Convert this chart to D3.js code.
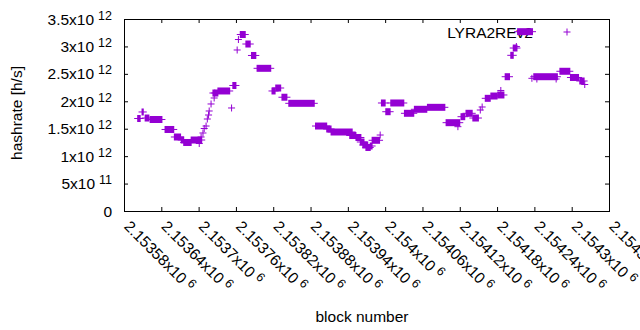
<!DOCTYPE html>
<meta charset="utf-8">
<head>
<title>LYRA2REv2 hashrate</title>
<style>
body { margin: 0; background: #fff; }
text { font-family: "Liberation Sans", Arial, sans-serif; font-size: 15.5px; fill: #000; }
.tick line { stroke: #000; }
</style>
</head>
<body>
<script src="https://d3js.org/d3.v7.min.js"></script>
<div id="chart"></div>
<script>

  // runs of consecutive blocks that share one hashrate value: first block, last block, h/s
  var runStart = [2153602, 2153609, 2153614, 2153622, 2153646, 2153661, 2153672, 2153676, 2153688, 2153701,
                  2153704, 2153707, 2153709, 2153712, 2153714, 2153716, 2153717, 2153720, 2153725, 2153726,
                  2153723, 2153731, 2153753, 2153755, 2153762, 2153764, 2153767, 2153776, 2153785, 2153794,
                  2153818, 2153824, 2153834, 2153845, 2153888, 2153906, 2153913, 2153943, 2153953, 2153960,
                  2153964, 2153969, 2153976, 2153979, 2153992, 2153994, 2154001, 2154009, 2154031, 2154047,
                  2154068, 2154098, 2154117, 2154122, 2154130, 2154141, 2154153, 2154156, 2154161, 2154170,
                  2154181, 2154186, 2154193, 2154202, 2154206, 2154211, 2154213, 2154236, 2154239, 2154244,
                  2154275, 2154281, 2154298, 2154313, 2154321];
  var runEnd   = [2153606, 2153611, 2153620, 2153641, 2153660, 2153671, 2153676, 2153688, 2153705, 2153701,
                  2153704, 2153707, 2153709, 2153712, 2153714, 2153716, 2153717, 2153720, 2153725, 2153726,
                  2153731, 2153750, 2153753, 2153760, 2153762, 2153764, 2153775, 2153783, 2153792, 2153816,
                  2153823, 2153832, 2153842, 2153886, 2153906, 2153913, 2153947, 2153953, 2153961, 2153966,
                  2153972, 2153976, 2153979, 2153991, 2153992, 2154000, 2154008, 2154030, 2154046, 2154067,
                  2154096, 2154120, 2154117, 2154128, 2154140, 2154150, 2154153, 2154156, 2154169, 2154180,
                  2154191, 2154186, 2154200, 2154206, 2154212, 2154211, 2154237, 2154236, 2154277, 2154244,
                  2154275, 2154297, 2154311, 2154320, 2154321];
  var runHash  = [1.686e12, 1.805e12, 1.695e12, 1.668e12, 1.486e12, 1.349e12, 1.294e12, 1.249e12, 1.294e12, 1.230e12,
                  1.349e12, 1.422e12, 1.504e12, 1.549e12, 1.677e12, 1.750e12, 1.823e12, 1.951e12, 2.060e12, 2.151e12,
                  2.151e12, 2.188e12, 1.878e12, 2.288e12, 2.935e12, 3.126e12, 3.217e12, 3.044e12, 2.835e12, 2.601e12,
                  2.188e12, 2.242e12, 2.074e12, 1.963e12, 1.549e12, 1.495e12, 1.440e12, 1.376e12, 1.340e12, 1.258e12,
                  1.203e12, 1.158e12, 1.185e12, 1.289e12, 1.385e12, 1.969e12, 1.810e12, 1.969e12, 1.781e12, 1.854e12,
                  1.890e12, 1.610e12, 1.537e12, 1.719e12, 1.781e12, 1.695e12, 1.841e12, 1.896e12, 2.054e12, 2.096e12,
                  2.115e12, 2.197e12, 2.448e12, 2.838e12, 2.971e12, 2.999e12, 3.269e12, 2.419e12, 2.448e12, 2.406e12,
                  2.406e12, 2.547e12, 2.434e12, 2.370e12, 2.306e12];

  var xTicks = [2153580, 2153640, 2153700, 2153760, 2153820, 2153880, 2153940,
                2154000, 2154060, 2154120, 2154180, 2154240, 2154300, 2154360];
  var xTickMant = ["2.15358", "2.15364", "2.1537", "2.15376", "2.15382", "2.15388", "2.15394",
                   "2.154", "2.15406", "2.15412", "2.15418", "2.15424", "2.1543", "2.15436"];
  var xTickExp = "6";

  var yTicks = [0, 0.5e12, 1e12, 1.5e12, 2e12, 2.5e12, 3e12, 3.5e12];
  var yTickMant = ["0", "5", "1", "1.5", "2", "2.5", "3", "3.5"];
  var yTickExp = ["", "11", "12", "12", "12", "12", "12", "12"];

  var seriesName = "LYRA2REv2";
  var color = "#9400d3";

  var width = 640,
      height = 330;

  var svg = d3.select("#chart")
      .append("svg")
      .attr("width", width)
      .attr("height", height);

  var x = d3.scaleLinear().domain([2153580, 2154360]).range([124, 609]);
  var y = d3.scaleLinear().domain([0, 3.5e12]).range([211, 19]);

  // ticks on all four sides, pointing inwards
  svg.append("g").attr("transform", "translate(0,211)")
      .call(d3.axisBottom(x).tickValues(xTicks).tickSize(-4).tickFormat(""));
  svg.append("g").attr("transform", "translate(0,19)")
      .call(d3.axisTop(x).tickValues(xTicks).tickSize(-4).tickFormat(""));
  svg.append("g").attr("transform", "translate(124,0)")
      .call(d3.axisLeft(y).tickValues(yTicks).tickSize(-4).tickFormat(""));
  svg.append("g").attr("transform", "translate(609,0)")
      .call(d3.axisRight(y).tickValues(yTicks).tickSize(-4).tickFormat(""));
  svg.selectAll(".domain").remove();

  svg.append("rect")
      .attr("x", x.range()[0] + 0.5).attr("y", y.range()[1] + 0.5)
      .attr("width", x.range()[1] - x.range()[0]).attr("height", y.range()[0] - y.range()[1])
      .attr("fill", "none").attr("stroke", "#000");

  // y tick labels
  yTicks.forEach(function (v, i) {
    var t = svg.append("text")
        .attr("x", 112).attr("y", y(v) + 5.5)
        .attr("text-anchor", "end");
    t.append("tspan").text(yTickMant[i] + (yTickExp[i] ? "x10" : ""));
    if (yTickExp[i]) {
      t.append("tspan").attr("dx", 4).attr("dy", -5).style("font-size", "12.5px").text(yTickExp[i]);
    }
  });

  // x tick labels, rotated
  xTicks.forEach(function (v, i) {
    var t = svg.append("text")
        .attr("transform", "translate(" + (x(v) + 3) + ",223.5) rotate(45)")
        .attr("dy", "0.35em");
    t.append("tspan").text(xTickMant[i] + "x10");
    t.append("tspan").attr("dx", 4).attr("dy", -5).style("font-size", "12.5px").text(xTickExp);
  });

  svg.append("text")
      .attr("x", 362).attr("y", 321.5)
      .attr("text-anchor", "middle")
      .text("block number");

  svg.append("text")
      .attr("transform", "translate(22,113) rotate(-90)")
      .attr("text-anchor", "middle")
      .text("hashrate [h/s]");

  // key text
  svg.append("text")
      .attr("x", 533).attr("y", 37.5)
      .attr("text-anchor", "end")
      .text(seriesName);

  // data: each run is the union of '+' marks, one per block
  var runs = runStart.map(function (s, i) { return { s: s, e: runEnd[i], v: runHash[i] }; });
  var g = svg.append("g");

  g.selectAll("rect.arm")
    .data(runs)
    .enter()
    .append("rect")
      .attr("x", function (d) { return x(d.s) - 0.5; })
      .attr("width", function (d) { return x(d.e) - x(d.s) + 1; })
      .attr("y", function (d) { return y(d.v) - 3.5; })
      .attr("height", 7)
      .attr("fill", color);

  g.selectAll("line.arm")
    .data(runs)
    .enter()
    .append("line")
      .attr("x1", function (d) { return x(d.s) - 3.5; })
      .attr("x2", function (d) { return x(d.e) + 3.5; })
      .attr("y1", function (d) { return y(d.v); })
      .attr("y2", function (d) { return y(d.v); })
      .attr("stroke", color)
      .attr("stroke-width", 1);

  // key sample
  var key = svg.append("g").attr("transform", "translate(567,32)");
  key.append("line").attr("x1", -3.5).attr("x2", 3.5).attr("stroke", color);
  key.append("line").attr("y1", -3.5).attr("y2", 3.5).attr("stroke", color);

</script>
</body>
